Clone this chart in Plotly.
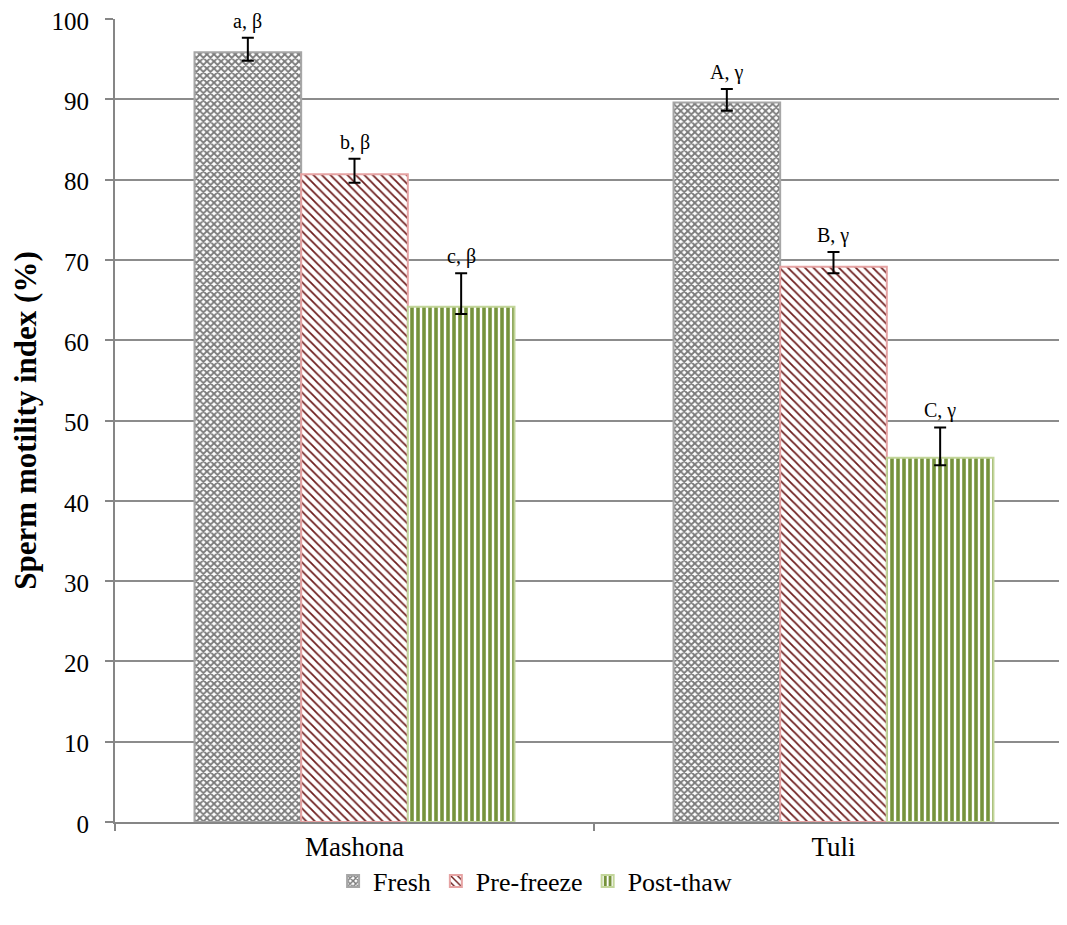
import plotly.graph_objects as go

breeds = ["Mashona", "Tuli"]
stages = ["Fresh", "Pre-freeze", "Post-thaw"]
values = {
    "Fresh": [95.85, 89.6],
    "Pre-freeze": [80.66, 69.15],
    "Post-thaw": [64.17, 45.37],
}
err_plus = {
    "Fresh": [1.82, 1.67],
    "Pre-freeze": [1.93, 1.83],
    "Post-thaw": [4.17, 3.77],
}
err_minus = {
    "Fresh": [1.05, 1.03],
    "Pre-freeze": [1.05, 0.82],
    "Post-thaw": [0.91, 0.95],
}
labels = {
    "Fresh": ["a, β", "A, γ"],
    "Pre-freeze": ["b, β", "B, γ"],
    "Post-thaw": ["c, β", "C, γ"],
}

styles = {
    "Fresh": dict(color="#808080", line=dict(color="#a6a6a6", width=2),
                  pattern=dict(shape="x", fgcolor="#7a7a7a", bgcolor="white",
                               fgopacity=1, fillmode="replace", size=5, solidity=0.6)),
    "Pre-freeze": dict(color="#6e1f1f", line=dict(color="#e6a3a3", width=2),
                       pattern=dict(shape="\\", fgcolor="#6e1f1f", bgcolor="white",
                                    fgopacity=1, fillmode="replace", size=6, solidity=0.3)),
    "Post-thaw": dict(color="#76933c", line=dict(color="#c3d69b", width=2),
                      pattern=dict(shape="|", fgcolor="#76933c", bgcolor="white",
                                   fgopacity=1, fillmode="replace", size=6, solidity=0.6)),
}

fig = go.Figure()
for s in stages:
    fig.add_trace(go.Bar(
        name=s, x=breeds, y=values[s], marker=styles[s],
        error_y=dict(type="data", symmetric=False, array=err_plus[s],
                     arrayminus=err_minus[s], color="black", thickness=2, width=6),
    ))

bar_px = 107
for i, s in enumerate(stages):
    for j, b in enumerate(breeds):
        fig.add_annotation(
            x=b, y=values[s][j] + err_plus[s][j], text=labels[s][j],
            showarrow=False, xshift=(i - 1) * bar_px, yshift=3, yanchor="bottom",
            font=dict(family="Liberation Serif", size=20, color="black"),
        )

fig.update_layout(
    width=1051, height=925,
    margin=dict(l=107, r=0, t=11, b=111),
    paper_bgcolor="white", plot_bgcolor="white",
    barmode="group", bargap=0.332, bargroupgap=0,
    font=dict(family="Liberation Serif", size=25, color="black"),
    showlegend=True,
    legend=dict(orientation="h", x=0.445, xanchor="center", y=-0.0735, yanchor="middle",
                font=dict(family="Liberation Serif", size=26), itemwidth=30,
                traceorder="normal"),
    xaxis=dict(range=[-0.5, 1.4708], tickson="boundaries", ticks="outside",
               ticklen=7, tickcolor="#868686", tickwidth=2, showline=True,
               linecolor="#868686", linewidth=2, showgrid=False, automargin=False,
               tickfont=dict(family="Liberation Serif", size=27)),
    yaxis=dict(range=[0, 100], dtick=10, ticks="outside", ticklen=8, tickwidth=2,
               tickcolor="#868686", showline=True, linecolor="#868686", linewidth=2,
               showgrid=True, gridcolor="#8c8c8c", gridwidth=1.5, zeroline=False,
               automargin=False, ticklabeloverflow="allow", ticklabelstandoff=11,
               ticklabelshift=2,
               tickfont=dict(family="Liberation Serif", size=25),
               title=dict(text="<b>Sperm motility index (%)</b>",
                          font=dict(family="Liberation Serif", size=31), standoff=18)),
)

fig.write_html("out.html")
